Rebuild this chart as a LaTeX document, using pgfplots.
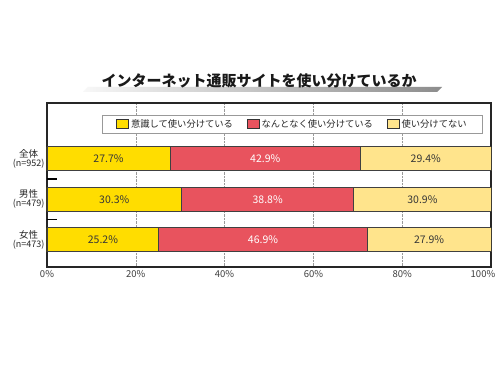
\documentclass[border=0pt]{standalone}
\usepackage{fontspec}
\setmainfont{Noto Sans CJK JP}
\usepackage{pgfplots}
\pgfplotsset{compat=1.18}
\definecolor{cY}{RGB}{255,221,0}
\definecolor{cR}{RGB}{232,83,94}
\definecolor{cL}{RGB}{255,228,140}
\definecolor{txt}{RGB}{55,55,55}
\begin{document}
\begin{tikzpicture}[x=1pt,y=1pt]
\useasboundingbox (0pt,0pt) rectangle (500pt,375pt);
\fill[white] (0pt,0pt) rectangle (500pt,375pt);
\shade[left color=black!3, right color=black!45] (83pt,283pt) -- (437pt,283pt) -- (442pt,288pt) -- (88pt,288pt) -- cycle;
\node[font=\fontsize{15}{18}\selectfont\bfseries, text=black!90] at (259pt,294.5pt) {インターネット通販サイトを使い分けているか};
\begin{axis}[at={(47pt,108pt)}, anchor=south west, scale only axis, width=444pt, height=164pt,
  xbar stacked, bar width=24pt,
  xmin=0, xmax=100, ymin=-1.38, ymax=2.67, y dir=reverse,
  xtick={0,20,...,100}, xticklabels={0\%,20\%,40\%,60\%,80\%,100\%\hspace*{16pt}},
  xticklabel style={font=\fontsize{9.5}{11}\selectfont, text=black!75},
  ytick={0,1,2},
  yticklabels={{全体\\[-2pt]{\fontsize{9}{10}\selectfont (n=952)}},{男性\\[-2pt]{\fontsize{9}{10}\selectfont (n=479)}},{女性\\[-2pt]{\fontsize{9}{10}\selectfont (n=473)}}},
  yticklabel style={align=center, font=\fontsize{9.5}{11}\selectfont, text=black!85, xshift=1pt},
  ytick pos=left, xtick pos=bottom,
  major tick length=0pt,
  extra y ticks={0.5,1.5}, extra y tick labels={},
  extra y tick style={major tick length=10pt, tick style={line width=1.5pt, black}},
  xmajorgrids, major grid style={densely dotted, black!40},
  axis line style={line width=1.3pt, black!85},
  legend style={at={(0.553,0.872)}, anchor=center, legend columns=3, draw=black!40, fill=white,
    font=\fontsize{9.3}{11}\selectfont, text=black!85, inner xsep=14pt, inner ysep=2.5pt,
    /tikz/every even column/.append style={column sep=12pt}},
  legend image code/.code={\draw[#1, draw=black!80, line width=0.6pt] (0pt,-4.5pt) rectangle (12pt,4.5pt);},
  nodes near coords, point meta=explicit symbolic,
  every node near coord/.append style={font=\fontsize{10.5}{12}\selectfont},
]
\addplot[fill=cY, draw=black!75, line width=0.8pt, nodes near coords style={text=txt}]
  coordinates {(27.7,0)[27.7\%] (30.3,1)[30.3\%] (25.2,2)[25.2\%]};
\addplot[fill=cR, draw=black!75, line width=0.8pt, nodes near coords style={text=white}]
  coordinates {(42.9,0)[42.9\%] (38.8,1)[38.8\%] (46.9,2)[46.9\%]};
\addplot[fill=cL, draw=black!75, line width=0.8pt, nodes near coords style={text=txt}]
  coordinates {(29.4,0)[29.4\%] (30.9,1)[30.9\%] (27.9,2)[27.9\%]};
\legend{意識して使い分けている,なんとなく使い分けている,使い分けてない}
\end{axis}
\end{tikzpicture}
\end{document}
